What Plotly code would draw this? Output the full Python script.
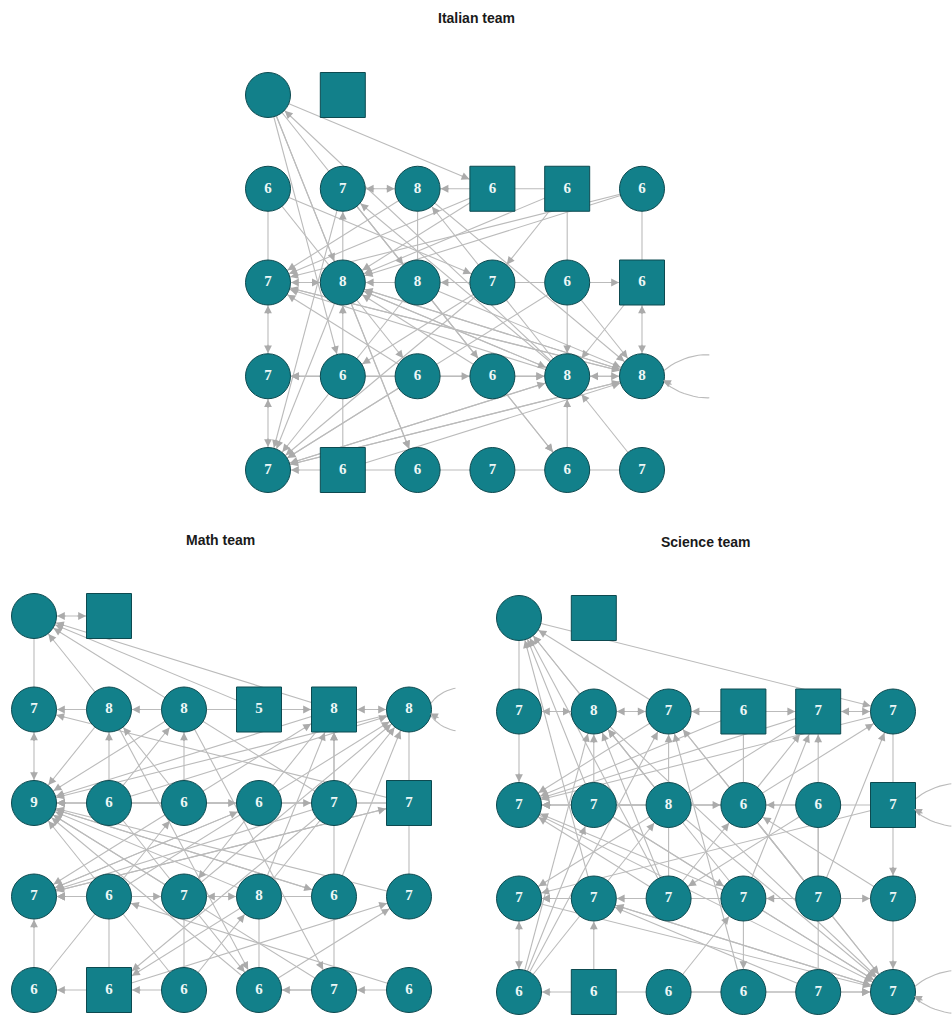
import math
import plotly.graph_objects as go

W, H = 952, 1017

# ---------------- data ----------------
TITLES = ["Italian team", "Math team", "Science team"]

ITA_SHAPES = [["c", "s"], ["c", "c", "c", "s", "s", "c"], ["c", "c", "c", "c", "c", "s"],
              ["c"] * 6, ["c", "s", "c", "c", "c", "c"]]
ITA_LABELS = [["", ""], ["6", "7", "8", "6", "6", "6"], ["7", "8", "8", "7", "6", "6"],
              ["7", "6", "6", "6", "8", "8"], ["7", "6", "6", "7", "6", "7"]]
ITA_EDGES = ["10-20", "13-14", "14-24", "15-25", "23-24", "31-41", "31-32", "41-42", "42-43", "43-44", "12-22", "44-45",
             "12=11", "13>12", "00>13", "34>00", "00>21", "00>31", "00>22", "00>42",
             "22>21", "21=20", "23>22", "24>25", "25=35", "24>34", "24>35", "25>34",
             "20=30", "30=40", "10>23", "21>11", "12>20", "14>21", "15>21", "13>20", "13>21", "15>20", "34>11", "34>12",
             "31>21", "34>21", "35>21", "33>21", "32>20", "34>20", "35>20", "31>30", "35>30",
             "41>40", "21>40", "22>40", "23>40", "32>40", "34>40", "35>40", "11>40", "24>40",
             "20>35", "21>34", "21>35", "30>34", "40>34", "40>35", "41>35", "22>35", "33>34", "44>34", "45>34", "12>35", "34=35",
             "21>42", "22>44", "32>33", "11>33", "23>31", "14>23", "11>44", "10>32"]
ITA_LOOPS = ["35"]

MATH_SHAPES = [["c", "s"], ["c", "c", "c", "s", "s", "c"], ["c", "c", "c", "c", "c", "s"],
               ["c"] * 6, ["c", "s", "c", "c", "c", "c"]]
MATH_LABELS = [["", ""], ["7", "8", "8", "5", "8", "8"], ["9", "6", "6", "6", "7", "7"],
               ["7", "6", "7", "8", "6", "7"], ["6", "6", "6", "6", "7", "6"]]
MATH_EDGES = ["00-10", "10-11", "12-13", "21-22", "24-25", "15-25", "25-35", "31-41", "33-43", "34-44", "43-44", "32-42",
              "01=00", "13>00", "14>00", "24>00", "11>00",
              "12>11", "13>14", "15=14", "10=20", "21>11", "22>12", "21>12", "22>11",
              "11>20", "12>20", "14>20", "15>20", "24>20", "25>20", "23>20",
              "22>23", "23>24", "24>14", "34>14", "33>14", "21>15", "31>15", "32>15", "33>15", "34>15", "22>14",
              "31>30", "31>32", "32=33", "40>30", "41>40", "42>41", "44>43", "45>44",
              "32>20", "33>20", "34>20", "35>20", "42>20", "43>20", "22>30", "23>30", "24>30", "25>30", "33>30", "34>30",
              "25>10", "15>10",
              "21>43", "24>41", "33>41", "11>43", "12>44", "30>23", "40>22", "42>33", "43>35", "45>31", "41>35",
              "44>20", "14>32", "20>34", "30>25"]
MATH_LOOPS = ["15"]

SCI_SHAPES = [["c", "s"], ["c", "c", "c", "s", "s", "c"], ["c", "c", "c", "c", "c", "s"],
              ["c"] * 6, ["c", "s", "c", "c", "c", "c"]]
SCI_LABELS = [["", ""], ["7", "8", "7", "6", "7", "7"], ["7", "7", "8", "6", "6", "7"],
              ["7", "7", "7", "7", "7", "7"], ["6", "6", "6", "6", "7", "7"]]
SCI_EDGES = ["00-10", "15-25", "34-44", "42-43", "43-44", "41-42", "13-23", "22-32", "24-34",
             "10=11", "11=12", "13>12", "13>14", "15=14", "00>15",
             "11>00", "21>00", "22>00", "31>00", "12>00", "32>00",
             "10>20", "34>14", "25>35", "35>45", "24>23", "31>30", "32>31", "34>33", "34>35", "33>43", "44>45",
             "41>40", "41>31", "30=40",
             "12>20", "14>20", "15>20", "25>20", "22>20", "32>20", "33>20", "23>20", "13>20",
             "20>45", "21>45", "22>45", "12>45", "30>45", "23>45", "11>45", "33>45", "31>45",
             "22>11", "32>11", "21>11", "40>11", "33>11",
             "34>12", "40>12", "22>12",
             "32>23", "35>23", "21>23",
             "33>14", "23>14", "34>15", "23>15",
             "40>21", "40>22", "42>33", "43>12", "44>31", "35>30", "25>30", "42>45", "45>31", "24>32", "21>33", "14>30"]
SCI_LOOPS = ["25", "45"]

# ---------------- panel geometry (pixels) ----------------
PANELS = [
    dict(shapes=ITA_SHAPES, labels=ITA_LABELS, edges=ITA_EDGES, loops=ITA_LOOPS,
         x0=268, y0=95, sx=74.8, sy=93.75, xr=(-0.6, 5.9), yr=(-0.6, 4.6), title_xy=(476, 18), loop_len=90),
    dict(shapes=MATH_SHAPES, labels=MATH_LABELS, edges=MATH_EDGES, loops=MATH_LOOPS,
         x0=34, y0=616, sx=75.0, sy=93.5, xr=(-0.45, 5.62), yr=(-0.6, 4.27), title_xy=(220, 540), loop_len=70),
    dict(shapes=SCI_SHAPES, labels=SCI_LABELS, edges=SCI_EDGES, loops=SCI_LOOPS,
         x0=519, y0=618, sx=74.8, sy=93.5, xr=(-0.6, 5.78), yr=(-0.6, 4.25), title_xy=(706, 542), loop_len=90),
]

NODE_FILL = "#12808a"
NODE_LINE = "#0d4a50"
EDGE_COL = "#bbbbbb"
HEAD_COL = "#ababab"
NODE_SIZE = 45
R = 22.5

fig = go.Figure()
annotations = []

for i, p in enumerate(PANELS):
    n = "" if i == 0 else str(i + 1)
    xa, ya = "x" + n, "y" + n
    sx, sy = p["sx"], p["sy"]
    xd = [(p["x0"] + p["xr"][0] * sx) / W, (p["x0"] + p["xr"][1] * sx) / W]
    yd = [1 - (p["y0"] + p["yr"][1] * sy) / H, 1 - (p["y0"] + p["yr"][0] * sy) / H]
    fig.layout["xaxis" + n] = dict(domain=xd, range=list(p["xr"]), visible=False, fixedrange=True)
    fig.layout["yaxis" + n] = dict(domain=yd, range=[p["yr"][1], p["yr"][0]], visible=False, fixedrange=True)

    def pos(nid):
        return int(nid[1]), int(nid[0])

    def shape_of(nid):
        return p["shapes"][int(nid[0])][int(nid[1])]

    # edges (lines)
    ex, ey = [], []
    heads = []
    for e in p["edges"]:
        a, op, b = e[:2], e[2], e[3:]
        (c1, r1), (c2, r2) = pos(a), pos(b)
        ex += [c1, c2, None]
        ey += [r1, r2, None]
        if op == ">":
            heads.append((a, b))
        elif op == "=":
            heads.append((a, b))
            heads.append((b, a))
    fig.add_trace(go.Scatter(x=ex, y=ey, mode="lines", xaxis=xa, yaxis=ya,
                             line=dict(color=EDGE_COL, width=1.1), hoverinfo="skip", showlegend=False))

    for a, b in heads:
        (c1, r1), (c2, r2) = pos(a), pos(b)
        dx, dy = (c2 - c1) * sx, (r2 - r1) * sy
        L = math.hypot(dx, dy)
        ux, uy = dx / L, dy / L
        if shape_of(b) == "s":
            so = R / max(abs(ux), abs(uy)) + 0.5
        else:
            so = R + 0.5
        ln = so + 10
        annotations.append(dict(x=c2, y=r2, xref=xa, yref=ya, ax=-ux * ln, ay=-uy * ln,
                                text="", showarrow=True, arrowhead=2, arrowsize=1.3, arrowwidth=1.2,
                                arrowcolor=HEAD_COL, standoff=so))

    # self loops
    for nid in p["loops"]:
        c, r = pos(nid)
        Lp = p["loop_len"]
        P = [(21, -5), (Lp * 0.5, -26), (Lp, -30), (Lp * 1.1, 0), (Lp, 30), (Lp * 0.5, 26), (21, 5)]
        lx, ly = [], []
        segs = [(P[0], P[1], P[2], P[3]), (P[3], P[4], P[5], P[6])]
        for s0, s1, s2, s3 in segs:
            for k in range(21):
                t = k / 20
                bx = (1 - t) ** 3 * s0[0] + 3 * (1 - t) ** 2 * t * s1[0] + 3 * (1 - t) * t ** 2 * s2[0] + t ** 3 * s3[0]
                by = (1 - t) ** 3 * s0[1] + 3 * (1 - t) ** 2 * t * s1[1] + 3 * (1 - t) * t ** 2 * s2[1] + t ** 3 * s3[1]
                lx.append(c + bx / sx)
                ly.append(r + by / sy)
        fig.add_trace(go.Scatter(x=lx, y=ly, mode="lines", xaxis=xa, yaxis=ya,
                                 line=dict(color=EDGE_COL, width=1.1), hoverinfo="skip", showlegend=False))
        annotations.append(dict(x=c + 21 / sx, y=r + 4 / sy, xref=xa, yref=ya, ax=10, ay=5,
                                text="", showarrow=True, arrowhead=2, arrowsize=1.3, arrowwidth=1.2,
                                arrowcolor=HEAD_COL, standoff=0))

    # nodes
    for shp, sym in (("c", "circle"), ("s", "square")):
        nx, ny, nt = [], [], []
        for r, row in enumerate(p["shapes"]):
            for c, s in enumerate(row):
                if s == shp:
                    nx.append(c)
                    ny.append(r)
                    nt.append(p["labels"][r][c])
        fig.add_trace(go.Scatter(x=nx, y=ny, mode="markers+text", xaxis=xa, yaxis=ya, text=nt,
                                 textposition="middle center", cliponaxis=False,
                                 textfont=dict(family="Liberation Serif", size=15, color="#eef7f7", weight="bold"),
                                 marker=dict(symbol=sym, size=NODE_SIZE, color=NODE_FILL,
                                             line=dict(color=NODE_LINE, width=1)),
                                 hoverinfo="skip", showlegend=False))

    tx, ty = p["title_xy"]
    annotations.append(dict(x=tx / W, y=1 - ty / H, xref="paper", yref="paper", text="<b>" + TITLES[i] + "</b>",
                            showarrow=False, font=dict(family="Liberation Sans", size=14, color="#1a1a1a"),
                            xanchor="center", yanchor="middle"))

fig.update_layout(width=W, height=H, autosize=False, margin=dict(l=0, r=0, t=0, b=0),
                  paper_bgcolor="white", plot_bgcolor="white", annotations=annotations)

fig.write_html("out.html")
